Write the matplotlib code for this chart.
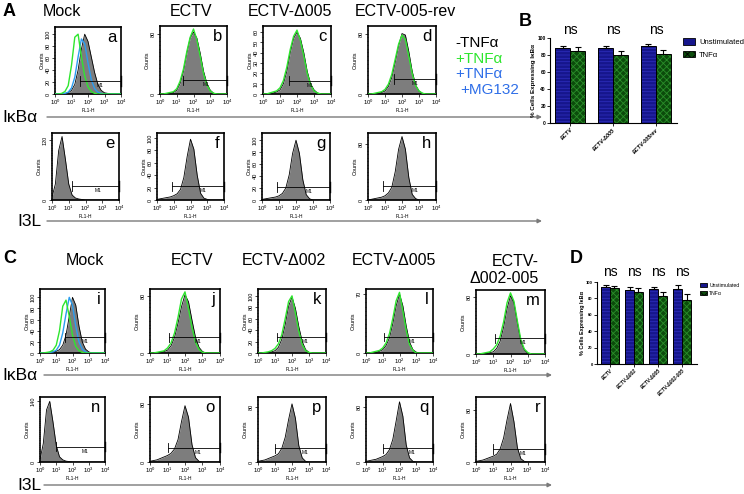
import numpy as np
import matplotlib
matplotlib.use('Agg')
import matplotlib.pyplot as plt
from matplotlib.patches import Patch
from matplotlib.ticker import MultipleLocator, LogLocator, NullFormatter

plt.rcParams['font.family'] = ['Liberation Sans', 'DejaVu Sans']
plt.rcParams['mathtext.fontset'] = 'custom'
plt.rcParams['mathtext.rm'] = 'Liberation Sans'
plt.rcParams['mathtext.it'] = 'Liberation Sans:italic'
plt.rcParams['mathtext.bf'] = 'Liberation Sans:bold'
plt.rcParams['hatch.linewidth'] = 0.6

# ---------------- data ----------------
FL1_LOG = [0.0, 0.2, 0.4, 0.6, 0.8, 1.0, 1.2, 1.4, 1.6, 1.8, 2.0,
           2.2, 2.4, 2.6, 2.8, 3.0, 3.2, 3.4, 3.6, 3.8, 4.0]

a_gray  = [0,0,0,1,2,6,16,40,75,100,88,62,36,16,6,2,1,0,0,0,0]
a_green = [0,0,1,4,14,48,95,100,62,30,12,4,1,0,0,0,0,0,0,0,0]
a_blue  = [0,0,0,1,3,10,28,62,92,84,52,24,9,3,1,0,0,0,0,0,0]
b_gray  = [0,0,0,1,2,5,14,30,54,74,82,74,54,30,14,5,1,0,0,0,0]
b_green = [0,0,1,2,3,7,17,33,56,75,86,72,50,27,12,4,1,0,0,0,0]
c_gray  = [0,0,0,1,2,4,10,22,40,54,60,54,40,22,10,4,1,0,0,0,0]
c_green = [0,0,1,2,3,6,13,26,43,56,62,52,37,20,9,3,1,0,0,0,0]
d_gray  = [0,0,0,1,2,4,10,22,42,64,80,78,56,30,12,4,1,0,0,0,0]
d_green = [0,0,1,2,3,6,13,26,46,66,78,72,50,27,11,4,1,0,0,0,0]
e_gray  = [6,32,100,128,82,32,10,4,2,1,0,0,0,0,0,0,0,0,0,0,0]
f_gray  = [1,2,3,4,5,7,10,17,36,70,98,82,40,11,3,1,0,0,0,0,0]
g_gray  = [1,2,3,4,5,7,11,20,42,78,100,78,34,9,2,0,0,0,0,0,0]
h_gray  = [0,1,2,3,4,6,10,18,40,72,90,72,32,8,2,0,0,0,0,0,0]
i_gray  = [0,0,0,1,2,3,6,14,32,66,100,86,48,20,7,2,0,0,0,0,0]
i_green = [0,0,1,2,5,14,40,84,95,66,32,12,4,1,0,0,0,0,0,0,0]
i_blue  = [0,0,0,1,2,5,14,36,70,100,86,48,20,7,2,0,0,0,0,0,0]
j_gray  = [0,0,0,1,2,4,10,22,42,65,82,72,46,22,8,2,0,0,0,0,0]
j_green = [0,0,1,2,3,7,14,28,50,76,86,62,36,15,5,1,0,0,0,0,0]
k_gray  = [0,0,0,1,2,4,10,24,50,82,98,78,46,20,6,1,0,0,0,0,0]
k_green = [0,0,1,2,4,8,16,32,60,90,100,70,38,15,4,1,0,0,0,0,0]
l_gray  = [0,0,0,1,2,4,9,18,35,56,70,56,32,13,4,1,0,0,0,0,0]
l_green = [0,0,1,2,3,6,12,23,41,62,72,50,27,10,3,0,0,0,0,0,0]
m_gray  = [0,0,0,1,2,3,8,18,38,64,82,72,44,18,6,1,0,0,0,0,0]
m_green = [0,0,1,2,3,7,13,25,45,72,86,74,46,20,7,2,0,0,0,0,0]
n_gray  = [6,42,120,140,92,38,12,5,2,1,0,0,0,0,0,0,0,0,0,0,0]
o_gray  = [1,2,3,5,7,9,12,18,31,56,78,62,24,6,1,0,0,0,0,0,0]
p_gray  = [1,2,3,5,7,9,12,20,36,62,85,64,24,6,1,0,0,0,0,0,0]
q_gray  = [1,2,3,4,6,8,11,18,33,60,88,67,25,6,1,0,0,0,0,0,0]
r_gray  = [1,2,3,5,7,9,12,20,37,65,90,62,22,5,1,0,0,0,0,0,0]

# M1 gate: (level in counts, left edge log10)
M1_GATES = {'a': (22, 1.5), 'b': (18, 1.37), 'c': (13, 1.5), 'd': (20, 1.5),
            'e': (28, 1.2), 'f': (22, 0.9), 'g': (22, 0.9), 'h': (20, 0.9),
            'i': (28, 1.55), 'j': (22, 1.1), 'k': (28, 1.1), 'l': (19, 1.1), 'm': (22, 1.1),
            'n': (35, 1.0), 'o': (20, 1.0), 'p': (20, 1.0), 'q': (20, 1.0), 'r': (20, 1.0)}

titles_A = ['Mock', 'ECTV', 'ECTV-Δ005', 'ECTV-005-rev']
titles_C = ['Mock', 'ECTV', 'ECTV-Δ002', 'ECTV-Δ005', 'ECTV-\nΔ002-005']

B_groups = ['ECTV', 'ECTV-Δ005', 'ECTV-005rev']
B_unstim = [88, 88, 90.5]
B_unstim_err = [3, 3, 2]
B_tnf = [85, 80.5, 81]
B_tnf_err = [4.5, 4, 5]

D_groups = ['ECTV', 'ECTV-Δ002', 'ECTV-Δ005', 'ECTV-Δ002-005']
D_unstim = [94, 90.5, 91.5, 92]
D_unstim_err = [2, 3.5, 3, 4.5]
D_tnf = [93, 87.5, 83.5, 77.5]
D_tnf_err = [2, 5, 4, 8]

# ---------------- figure ----------------
W, H = 744, 494
fig = plt.figure(figsize=(W / 100, H / 100), dpi=100)


def pax(x0, y0, x1, y1, **kw):
    return fig.add_axes([x0 / W, 1 - y1 / H, (x1 - x0) / W, (y1 - y0) / H], **kw)


ov = pax(0, 0, W, H, zorder=0)
ov.set_xlim(0, W)
ov.set_ylim(H, 0)
ov.axis('off')

GREEN = '#2ee62e'
BLUE = '#2a9df0'
GRAY = '#7d7d7d'


def draw_hist(box, letter, gray, ymax, yticks, green=None, blue=None):
    ax = pax(*box, zorder=2)
    x = 10 ** np.array(FL1_LOG)
    ax.fill_between(x, gray, color=GRAY, lw=0, zorder=1)
    ax.plot(x, gray, color='black', lw=0.6, zorder=2)
    if blue is not None:
        ax.plot(x, blue, color=BLUE, lw=1.0, zorder=3)
    if green is not None:
        ax.plot(x, green, color=GREEN, lw=1.0, zorder=4)
    ax.set_xscale('log')
    ax.set_xlim(1, 1e4)
    ax.set_ylim(0, ymax)
    # M1 gate
    lvl, x0 = M1_GATES[letter]
    d = ymax * 0.07
    ax.plot([10 ** x0, 1e4], [lvl, lvl], color='black', lw=0.6, zorder=5, clip_on=False)
    ax.plot([10 ** x0] * 2, [lvl - d, lvl + d], color='black', lw=0.6, zorder=5)
    ax.plot([1e4] * 2, [lvl - d, lvl + d], color='black', lw=1.0, zorder=5, clip_on=False)
    ax.text(10 ** 2.75, lvl - ymax * 0.03, 'M1', fontsize=3.5, ha='center', va='top', zorder=6)
    ax.text(0.93, 0.95, letter, transform=ax.transAxes, ha='right', va='top', fontsize=12, zorder=6)
    ax.set_xticks([1, 10, 100, 1000, 10000])
    ax.set_xticklabels([r'$10^{0}$', r'$10^{1}$', r'$10^{2}$', r'$10^{3}$', r'$10^{4}$'], fontsize=4.3)
    ax.xaxis.set_minor_locator(LogLocator(base=10, subs=np.arange(2, 10)))
    ax.xaxis.set_minor_formatter(NullFormatter())
    ax.set_yticks(yticks)
    ax.set_yticklabels([str(t) for t in yticks], fontsize=4, rotation=90, va='center')
    ax.yaxis.set_minor_locator(MultipleLocator(5))
    ax.tick_params(which='major', length=2, width=0.5, pad=1)
    ax.tick_params(which='minor', length=1, width=0.4)
    ax.set_xlabel('FL1-H', fontsize=3.5, labelpad=0.5)
    ax.set_ylabel('Counts', fontsize=4, labelpad=1)
    for s in ax.spines.values():
        s.set_linewidth(1.2)
    return ax


# Panel A
draw_hist((55, 27, 121, 94), 'a', a_gray, 112, [0, 20, 40, 60, 80, 100], a_green, a_blue)
draw_hist((160, 26, 227, 94), 'b', b_gray, 90, [0, 80], b_green)
draw_hist((263, 26, 331, 94), 'c', c_gray, 66, [0, 10, 20, 30, 40, 50, 60], c_green)
draw_hist((368, 26, 436, 94), 'd', d_gray, 90, [0, 80], d_green)
draw_hist((52, 133, 119, 200), 'e', e_gray, 135, [0, 120])
draw_hist((157, 133, 224, 200), 'f', f_gray, 108, [0, 20, 40, 60, 80, 100])
draw_hist((262, 133, 330, 200), 'g', g_gray, 112, [0, 20, 40, 60, 80, 100])
draw_hist((368, 133, 436, 200), 'h', h_gray, 95, [0, 80])

# Panel C
draw_hist((40, 289, 105, 353), 'i', i_gray, 115, [0, 20, 40, 60, 80, 100], i_green, i_blue)
draw_hist((150, 289, 220, 353), 'j', j_gray, 90, [0, 80], j_green)
draw_hist((258, 289, 326, 353), 'k', k_gray, 112, [0, 20, 40, 60, 80, 100], k_green)
draw_hist((366, 289, 433, 353), 'l', l_gray, 76, [0, 70], l_green)
draw_hist((476, 290, 545, 354), 'm', m_gray, 90, [0, 80], m_green)
draw_hist((40, 397, 105, 462), 'n', n_gray, 150, [0, 140])
draw_hist((150, 397, 220, 462), 'o', o_gray, 90, [0, 80])
draw_hist((258, 397, 326, 462), 'p', p_gray, 95, [0, 80])
draw_hist((366, 397, 433, 462), 'q', q_gray, 95, [0, 80])
draw_hist((476, 397, 545, 462), 'r', r_gray, 100, [0, 80])

# Overlay texts
ov.text(3, 12, 'A', fontsize=13, fontweight='bold', va='center', ha='left')
ov.text(519, 22, 'B', fontsize=13, fontweight='bold', va='center', ha='left')
ov.text(3, 258, 'C', fontsize=13, fontweight='bold', va='center', ha='left')
ov.text(570, 258, 'D', fontsize=13, fontweight='bold', va='center', ha='left')

for t, xc in zip(titles_A, [62, 191, 290, 405]):
    ov.text(xc, 11, t, fontsize=11.5, ha='center', va='center')
for t, xc in zip(titles_C[:4], [85, 192, 284, 394]):
    ov.text(xc, 260, t, fontsize=11.5, ha='center', va='center')
ov.text(539, 270, titles_C[4], fontsize=11.5, ha='right', va='center', linespacing=1.1)

# legend of histogram colors
ov.text(455, 43, '-TNFα', fontsize=11, color='black', va='center')
ov.text(455, 59, '+TNFα', fontsize=11, color=GREEN, va='center')
ov.text(455, 74, '+TNFα', fontsize=11, color='#2f6fe8', va='center')
ov.text(460, 90, '+MG132', fontsize=11, color='#2f6fe8', va='center')

# row labels with arrows
arrow_kw = dict(arrowstyle='-|>', color='#7a7a7a', lw=1.0, mutation_scale=6, shrinkA=0, shrinkB=0)
for y, lab, x0, x1, xl in [(117, 'IκBα', 47, 542, 2), (221, 'I3L', 47, 542, 17),
                           (375, 'IκBα', 44, 552, 2), (485, 'I3L', 44, 552, 17)]:
    ov.annotate('', xy=(x1, y), xytext=(x0, y), arrowprops=arrow_kw)
    ov.text(xl, y, lab, fontsize=12.5, va='center', ha='left')

# ---------------- bar charts ----------------
BAR_BLUE = '#16168c'
BAR_BLUE_H = '#2c2cb8'
BAR_GREEN = '#0c4c0c'
BAR_GREEN_H = '#2a8f2a'


def draw_bars(box, groups, un, un_err, tn, tn_err, width, xlim, ns_y, tick_fs, lab_fs, ns_fs):
    ax = pax(*box, zorder=2)
    x = np.arange(len(groups))
    ax.bar(x - width / 2, un, width, color=BAR_BLUE, edgecolor=BAR_BLUE_H, hatch='-----', lw=0)
    ax.bar(x + width / 2, tn, width, color=BAR_GREEN, edgecolor=BAR_GREEN_H, hatch='xxxxx', lw=0)
    ax.bar(x - width / 2, un, width, fill=False, edgecolor='black', lw=0.7)
    ax.bar(x + width / 2, tn, width, fill=False, edgecolor='black', lw=0.7)
    ax.errorbar(x - width / 2, un, yerr=[np.zeros(len(x)), un_err], fmt='none', ecolor='black',
                elinewidth=0.8, capsize=2.5, capthick=0.8)
    ax.errorbar(x + width / 2, tn, yerr=[np.zeros(len(x)), tn_err], fmt='none', ecolor='black',
                elinewidth=0.8, capsize=2.5, capthick=0.8)
    for xi in x:
        ax.text(xi, ns_y, 'ns', ha='center', va='bottom', fontsize=ns_fs, clip_on=False)
    ax.set_xlim(*xlim)
    ax.set_ylim(0, 100)
    ax.set_yticks([0, 20, 40, 60, 80, 100])
    ax.set_yticklabels(['0', '20', '40', '60', '80', '100'], fontsize=tick_fs, fontweight='bold')
    ax.set_xticks(x)
    ax.set_xticklabels(groups, rotation=45, ha='right', rotation_mode='anchor',
                       fontsize=tick_fs + 0.5, fontweight='bold', fontstyle='italic')
    ax.tick_params(length=2, width=0.6, pad=1)
    ax.spines['top'].set_visible(False)
    ax.spines['right'].set_visible(False)
    ax.spines['left'].set_linewidth(0.8)
    ax.spines['bottom'].set_linewidth(0.8)
    ax.set_ylabel('% Cells Expressing IκBα', fontsize=lab_fs, fontweight='bold', labelpad=1)
    return ax


draw_bars((550, 38, 677, 123), B_groups, B_unstim, B_unstim_err, B_tnf, B_tnf_err,
          0.35, (-0.47, 2.49), 101, 3.5, 4.5, 10)
draw_bars((597, 282, 697, 364), D_groups, D_unstim, D_unstim_err, D_tnf, D_tnf_err,
          0.37, (-0.54, 3.62), 104, 3.0, 4.0, 10)

hb = Patch(facecolor=BAR_BLUE, edgecolor='black', lw=0.6)
hg = Patch(facecolor=BAR_GREEN, edgecolor='black', hatch='xxxx', lw=0.6)
fig.legend([hb, hg], ['Unstimulated', 'TNFα'], loc='upper left', bbox_to_anchor=(683 / W, 1 - 38 / H),
           fontsize=5.5, frameon=False, handlelength=1.6, handleheight=1.0, labelspacing=0.6,
           handletextpad=0.5, borderpad=0, borderaxespad=0)
fig.legend([hb, hg], ['Unstimulated', 'TNFα'], loc='upper left', bbox_to_anchor=(700 / W, 1 - 283 / H),
           fontsize=3.7, frameon=False, handlelength=1.4, handleheight=0.9, labelspacing=0.5,
           handletextpad=0.4, borderpad=0, borderaxespad=0)

fig.savefig('out.png', dpi=100)
